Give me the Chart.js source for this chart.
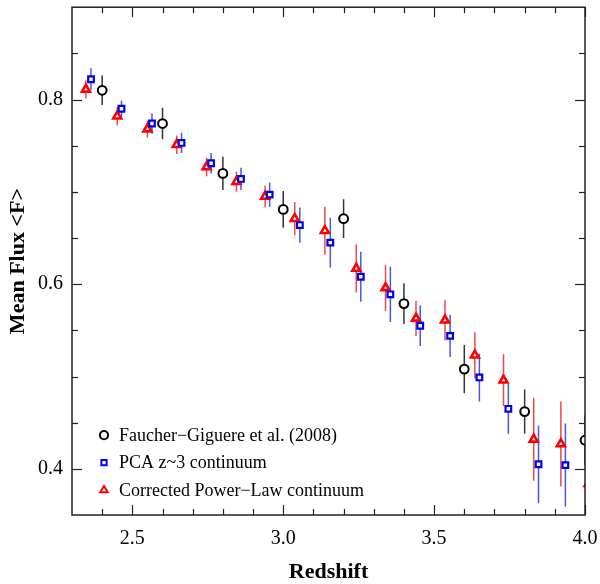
<!DOCTYPE html>
<html><head><meta charset="utf-8">
<script src="https://cdn.jsdelivr.net/npm/chart.js@4/dist/chart.umd.min.js"></script>
<style>html,body{margin:0;padding:0;background:#fff}canvas{display:block}</style>
</head><body>
<canvas id="c" width="600" height="584"></canvas>
<script>
// ---- data ----
const fgLabel = 'Faucher\u2212Giguere et al. (2008)';
const fgZ   = [2.4, 2.6, 2.8, 3.0, 3.2, 3.4, 3.6, 3.8, 4.0];
const fgF   = [0.810, 0.774, 0.720, 0.681, 0.671, 0.579, 0.508, 0.462, 0.431];
const fgErr = [0.016, 0.017, 0.018, 0.020, 0.021, 0.022, 0.026, 0.024, 0.027];

const pcaLabel = 'PCA z~3 continuum';
const pcaZ   = [2.363, 2.464, 2.565, 2.663, 2.761, 2.860, 2.955, 3.055, 3.156, 3.257, 3.355, 3.454, 3.553, 3.650, 3.746, 3.846, 3.935];
const pcaF   = [0.822, 0.790, 0.774, 0.753, 0.731, 0.714, 0.697, 0.664, 0.645, 0.608, 0.589, 0.555, 0.544, 0.499, 0.465, 0.405, 0.404];
const pcaErr = [0.012, 0.009, 0.011, 0.011, 0.011, 0.012, 0.013, 0.019, 0.027, 0.027, 0.030, 0.022, 0.023, 0.026, 0.027, 0.042, 0.045];

const plLabel = 'Corrected Power\u2212Law continuum';
const plZ   = [2.346, 2.450, 2.550, 2.647, 2.746, 2.845, 2.940, 3.038, 3.138, 3.242, 3.339, 3.440, 3.536, 3.635, 3.730, 3.830, 3.920, 4.012];
const plF   = [0.811, 0.782, 0.768, 0.751, 0.727, 0.711, 0.695, 0.671, 0.658, 0.617, 0.596, 0.563, 0.561, 0.523, 0.496, 0.432, 0.427, 0.384];
const plErr = [0.010, 0.010, 0.009, 0.010, 0.010, 0.011, 0.012, 0.018, 0.026, 0.026, 0.025, 0.019, 0.022, 0.025, 0.028, 0.045, 0.046, 0.045];

const xTickLabels = [2.5, 3.0, 3.5, 4.0];
const xMinorTicks = [2.4, 2.6, 2.7, 2.8, 2.9, 3.1, 3.2, 3.3, 3.4, 3.6, 3.7, 3.8, 3.9];
const yTickLabels = [0.4, 0.6, 0.8];
const yMinorTicks = [0.45, 0.5, 0.55, 0.65, 0.7, 0.75, 0.85];

const xTitle = 'Redshift';
const yTitle = 'Mean Flux <F>';

// ---- helpers ----
const FONT = '"Liberation Serif", "Times New Roman", serif';
const pts = (z, f) => z.map((v, i) => ({x: v, y: f[i]}));
const errPts = (z, f, e) => {
  const out = [];
  z.forEach((v, i) => { out.push({x: v, y: f[i] - e[i]}, {x: v, y: f[i] + e[i]}, {x: v, y: null}); });
  return out;
};

const datasets = [
  {label: fgLabel, data: pts(fgZ, fgF), pointStyle: 'circle', pointRadius: 4.4, pointBorderWidth: 2,
   borderColor: '#000', backgroundColor: '#fff', pointBackgroundColor: '#fff', showLine: false, order: 0, legendItem: true},
  {label: pcaLabel, data: pts(pcaZ, pcaF), pointStyle: 'rect', pointRadius: 4.0, pointBorderWidth: 2.2,
   borderColor: '#0000f0', backgroundColor: '#fff', pointBackgroundColor: '#fff', showLine: false, order: 1, legendItem: true},
  {label: plLabel, data: pts(plZ, plF), pointStyle: 'triangle', pointRadius: 4.6, pointBorderWidth: 2.6,
   borderColor: '#ff0000', backgroundColor: '#fff', pointBackgroundColor: '#fff', showLine: false, order: 2, legendItem: true},
  {label: 'err fg', data: errPts(fgZ, fgF, fgErr), showLine: true, spanGaps: false, pointRadius: 0,
   borderColor: '#333', borderWidth: 1.5, order: 5},
  {label: 'err pca', data: errPts(pcaZ, pcaF, pcaErr), showLine: true, spanGaps: false, pointRadius: 0,
   borderColor: '#4b55e0', borderWidth: 1.5, order: 4},
  {label: 'err pl', data: errPts(plZ, plF, plErr), showLine: true, spanGaps: false, pointRadius: 0,
   borderColor: '#f04848', borderWidth: 1.5, order: 3}
];

// frame + inward ticks on all four sides
const framePlugin = {
  id: 'frameTicks',
  afterDraw(chart) {
    const {ctx, chartArea: a, scales: {x, y}} = chart;
    ctx.save();
    ctx.strokeStyle = '#222';
    ctx.lineWidth = 1.2;
    const seg = (x1, y1, x2, y2) => { ctx.beginPath(); ctx.moveTo(x1, y1); ctx.lineTo(x2, y2); ctx.stroke(); };
    const xt = (v, len) => { const p = Math.round(x.getPixelForValue(v)) + 0.5; seg(p, a.bottom, p, a.bottom - len); seg(p, a.top, p, a.top + len); };
    const yt = (v, len) => { const p = Math.round(y.getPixelForValue(v)) + 0.5; seg(a.left, p, a.left + len, p); seg(a.right, p, a.right - len, p); };
    xTickLabels.forEach(v => xt(v, 10));
    xMinorTicks.forEach(v => xt(v, 6));
    yTickLabels.forEach(v => yt(v, 10));
    yMinorTicks.forEach(v => yt(v, 6));
    ctx.lineWidth = 1.5;
    ctx.strokeRect(a.left, a.top, a.right - a.left, a.bottom - a.top);
    ctx.restore();
  }
};

// legend drawn inside the plot, lower left
const legendPlugin = {
  id: 'innerLegend',
  afterDraw(chart) {
    const {ctx, chartArea: a} = chart;
    ctx.save();
    ctx.font = '18px ' + FONT;
    ctx.textBaseline = 'middle';
    ctx.textAlign = 'left';
    const items = chart.data.datasets.filter(d => d.legendItem);
    items.forEach((d, i) => {
      const cy = a.top + 428 + i * 27.5;
      const cx = a.left + 32;
      ctx.strokeStyle = d.borderColor;
      ctx.fillStyle = '#fff';
      ctx.lineWidth = 2;
      Chart.helpers.drawPoint(ctx, {pointStyle: d.pointStyle, radius: d.pointRadius - 0.3, rotation: 0, borderWidth: 2}, cx, cy);
      ctx.fillStyle = '#000';
      ctx.fillText(d.label, cx + 15, cy + 1);
    });
    ctx.restore();
  }
};

new Chart(document.getElementById('c'), {
  type: 'scatter',
  data: {datasets},
  options: {
    responsive: false,
    animation: false,
    devicePixelRatio: 1,
    events: [],
    layout: {padding: {top: 5, right: 15, left: 0, bottom: 0}},
    plugins: {legend: {display: false}, tooltip: {enabled: false}},
    scales: {
      x: {
        type: 'linear', min: 2.3, max: 4.0,
        afterBuildTicks: s => { s.ticks = xTickLabels.map(v => ({value: v})); },
        ticks: {callback: v => Number(v).toFixed(1), font: {family: FONT, size: 20}, color: '#000', padding: 12, maxRotation: 0, autoSkip: false},
        grid: {display: false, drawTicks: false},
        border: {display: false},
        title: {display: true, text: xTitle, color: '#000', font: {family: FONT, size: 22, weight: 'bold', lineHeight: 1.0}, padding: {top: 0, bottom: 1}},
        afterFit: s => { s.height = 69; s.paddingLeft = 0; s.paddingRight = 0; }
      },
      y: {
        type: 'linear', min: 0.35, max: 0.9,
        afterBuildTicks: s => { s.ticks = yTickLabels.map(v => ({value: v})); },
        ticks: {callback: v => Number(v).toFixed(1), font: {family: FONT, size: 20}, color: '#000', padding: 9, autoSkip: false},
        grid: {display: false, drawTicks: false},
        border: {display: false},
        title: {display: true, text: yTitle, color: '#000', font: {family: FONT, size: 22, weight: 'bold', lineHeight: 1.2}, padding: {top: 5, bottom: 0}},
        afterFit: s => { s.width = 72; s.paddingTop = 0; s.paddingBottom = 0; }
      }
    }
  },
  plugins: [framePlugin, legendPlugin]
});
</script>
</body></html>
